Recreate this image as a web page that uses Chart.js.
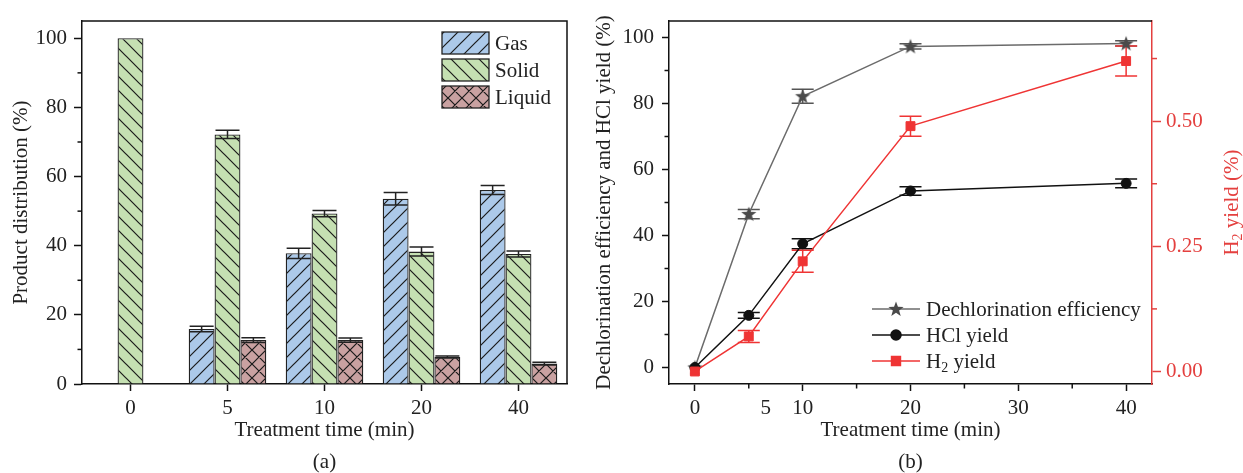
<!DOCTYPE html>
<html>
<head>
<meta charset="utf-8">
<script src="https://cdn.jsdelivr.net/npm/chart.js@4.4.1/dist/chart.umd.min.js"></script>
<style>
  html, body { margin: 0; padding: 0; background: #fff; overflow: hidden; }
  #wrap { position: relative; width: 1243px; height: 473px; overflow: hidden; }
  #chartA { position: absolute; left: 0; top: 0; }
  #chartB { position: absolute; left: 590px; top: 0; }
</style>
</head>
<body>
<div id="wrap">
  <canvas id="chartA" width="590" height="478"></canvas>
  <canvas id="chartB" width="653" height="478"></canvas>
</div>
<script>
// (a) product distribution
const timeLabels = ['0', '5', '10', '20', '40'];
const gasValues = [null, 15.9, 37.8, 53.6, 56.1];
const gasErrors = [0, 0.8, 1.5, 1.8, 1.3];
const solidValues = [100, 72.2, 49.3, 38.3, 37.6];
const solidErrors = [0, 1.2, 0.9, 1.3, 0.9];
const liquidValues = [null, 12.7, 12.7, 7.8, 5.9];
const liquidErrors = [0, 0.7, 0.6, 0.3, 0.4];
const distTicks = [0, 20, 40, 60, 80, 100];
const distMinor = [10, 30, 50, 70, 90];

// (b) dechlorination efficiency, HCl and H2 yield
const timeValues = [0, 5, 10, 20, 40];
const dechlValues = [0, 46.5, 82.2, 97.3, 98.2];
const dechlErrors = [0, 1.4, 2.1, 0.8, 0.8];
const hclValues = [0, 15.8, 37.5, 53.5, 55.8];
const hclErrors = [0, 0.9, 1.5, 1.3, 1.3];
const h2Values = [0, 0.07, 0.22, 0.49, 0.62];
const h2Errors = [0, 0.012, 0.022, 0.02, 0.03];
const timeTicks = [0, 10, 20, 30, 40];
const timeMinor = [5, 15, 25, 35];
const effTicks = [0, 20, 40, 60, 80, 100];
const effMinor = [10, 30, 50, 70, 90];
const h2Ticks = [0, 0.25, 0.5];
const h2Minor = [0.125, 0.375, 0.625];

const FONT = '"Liberation Serif", "Times New Roman", serif';
const TXT = '#222';
const RED_AXIS = '#e4403f';
const RED = '#ef3434';

// hatch patterns for the bars
function hatch(bg, kind) {
  const s = 14;
  const c = document.createElement('canvas');
  c.width = s; c.height = s;
  const g = c.getContext('2d');
  g.fillStyle = bg;
  g.fillRect(0, 0, s, s);
  g.strokeStyle = '#1a1a1a';
  g.lineWidth = 1.2;
  g.beginPath();
  if (kind === '/' || kind === 'x') {
    g.moveTo(0, s); g.lineTo(s, 0);
    g.moveTo(-1, 1); g.lineTo(1, -1);
    g.moveTo(s - 1, s + 1); g.lineTo(s + 1, s - 1);
  }
  if (kind === '\\' || kind === 'x') {
    g.moveTo(0, 0); g.lineTo(s, s);
    g.moveTo(s - 1, -1); g.lineTo(s + 1, 1);
    g.moveTo(-1, s - 1); g.lineTo(1, s + 1);
  }
  g.stroke();
  return c.getContext('2d').createPattern(c, 'repeat');
}

// filled five point star used as marker
function starImage(color) {
  const c = document.createElement('canvas');
  c.width = 18; c.height = 18;
  const g = c.getContext('2d');
  g.fillStyle = color;
  g.beginPath();
  for (let i = 0; i < 10; i++) {
    const r = i % 2 ? 3.3 : 8;
    const a = -Math.PI / 2 + i * Math.PI / 5;
    g.lineTo(9 + r * Math.cos(a), 9.5 + r * Math.sin(a));
  }
  g.closePath();
  g.fill();
  return c;
}

// text with subscript parts: [[text, isSub], ...]
function richText(ctx, parts, x, y, size) {
  const widths = parts.map(([t, sub]) => {
    ctx.font = (sub ? Math.round(size * 0.65) : size) + 'px ' + FONT;
    return ctx.measureText(t).width;
  });
  let cx = x;
  parts.forEach(([t, sub], i) => {
    ctx.font = (sub ? Math.round(size * 0.65) : size) + 'px ' + FONT;
    ctx.fillText(t, cx, sub ? y + size * 0.28 : y);
    cx += widths[i];
  });
  return widths.reduce((s, w) => s + w, 0);
}

const errorBars = {
  id: 'errorBars',
  draw(chart) {
    const ctx = chart.ctx;
    chart.data.datasets.forEach((ds, i) => {
      if (!ds.errors) return;
      const meta = chart.getDatasetMeta(i);
      const ys = chart.scales[meta.yAxisID];
      ctx.save();
      ctx.strokeStyle = ds.errorColor;
      ctx.lineWidth = 1.5;
      meta.data.forEach((el, j) => {
        const v = ds.data[j];
        const val = v !== null && typeof v === 'object' ? v.y : v;
        const e = ds.errors[j];
        if (val == null || !e) return;
        const x = el.x;
        const y1 = ys.getPixelForValue(val + e);
        const y2 = ys.getPixelForValue(val - e);
        const w = ds.capHalf;
        ctx.beginPath();
        ctx.moveTo(x, y1); ctx.lineTo(x, y2);
        ctx.moveTo(x - w, y1); ctx.lineTo(x + w, y1);
        ctx.moveTo(x - w, y2); ctx.lineTo(x + w, y2);
        ctx.stroke();
      });
      ctx.restore();
    });
  },
  afterDatasetsDraw(chart, args, opts) { if (!opts.below) this.draw(chart); },
  beforeDatasetsDraw(chart, args, opts) { if (opts.below) this.draw(chart); }
};

const axisExtras = {
  id: 'axisExtras',
  afterDraw(chart, args, opts) {
    const ctx = chart.ctx;
    const a = chart.chartArea;
    ctx.save();
    ctx.lineWidth = 1.5;
    (opts.minor || []).forEach(m => {
      const sc = chart.scales[m.axis];
      ctx.strokeStyle = m.color || '#111';
      m.values.forEach(v => {
        const p = sc.getPixelForValue(v);
        ctx.beginPath();
        if (sc.isHorizontal()) { ctx.moveTo(p, a.bottom); ctx.lineTo(p, a.bottom + 4.5); }
        else if (sc.position === 'left') { ctx.moveTo(a.left, p); ctx.lineTo(a.left - 4.5, p); }
        else { ctx.moveTo(a.right, p); ctx.lineTo(a.right + 5, p); }
        ctx.stroke();
      });
    });
    ctx.strokeStyle = '#111';
    ctx.beginPath();
    ctx.moveTo(a.left, a.top);
    ctx.lineTo(a.right, a.top);
    if (opts.frameRight) ctx.lineTo(a.right, a.bottom);
    ctx.stroke();
    ctx.restore();
  }
};

const legendA = {
  id: 'legendA',
  afterDraw(chart) {
    const ctx = chart.ctx;
    const a = chart.chartArea;
    ctx.save();
    ctx.textBaseline = 'middle';
    ctx.font = '21px ' + FONT;
    chart.data.datasets.forEach((ds, i) => {
      const x = a.right - 125;
      const y = a.top + 11 + i * 27;
      ctx.fillStyle = ds.backgroundColor;
      ctx.fillRect(x, y, 47, 22);
      ctx.strokeStyle = '#222';
      ctx.lineWidth = 1.3;
      ctx.strokeRect(x, y, 47, 22);
      ctx.fillStyle = TXT;
      ctx.fillText(ds.label, x + 53, y + 12);
    });
    ctx.restore();
  }
};

const legendB = {
  id: 'legendB',
  afterDraw(chart) {
    const ctx = chart.ctx;
    const a = chart.chartArea;
    ctx.save();
    ctx.textBaseline = 'middle';
    const rows = [a.bottom - 75, a.bottom - 49, a.bottom - 23];
    chart.data.datasets.forEach((ds, i) => {
      const y = rows[i];
      const x0 = a.right - 280, x1 = a.right - 232;
      ctx.strokeStyle = ds.borderColor;
      ctx.lineWidth = 1.5;
      ctx.beginPath(); ctx.moveTo(x0, y); ctx.lineTo(x1, y); ctx.stroke();
      ctx.fillStyle = ds.pointBackgroundColor;
      ctx.strokeStyle = ds.pointBorderColor;
      Chart.helpers.drawPoint(ctx, { pointStyle: ds.pointStyle, radius: ds.pointRadius, rotation: 0, borderWidth: 1 }, (x0 + x1) / 2, y);
      ctx.fillStyle = TXT;
      richText(ctx, ds.legendParts, a.right - 226, y + 1, 21);
    });
    ctx.restore();
  }
};

// extra "5" label placed beside its tick, and the rotated H2 axis title
const labelsB = {
  id: 'labelsB',
  afterDraw(chart) {
    const ctx = chart.ctx;
    const a = chart.chartArea;
    const xs = chart.scales.x;
    ctx.save();
    ctx.fillStyle = TXT;
    ctx.font = '21px ' + FONT;
    ctx.textAlign = 'center';
    ctx.textBaseline = 'middle';
    ctx.fillText('5', xs.getPixelForValue(5) + 17, a.bottom + 7 + 5 + 12.6);
    ctx.translate(chart.width - 11, (a.top + a.bottom) / 2);
    ctx.rotate(-Math.PI / 2);
    ctx.textAlign = 'left';
    ctx.fillStyle = RED_AXIS;
    const parts = [['H', 0], ['2', 1], [' yield (%)', 0]];
    ctx.globalAlpha = 0;
    const w = richText(ctx, parts, 0, 0, 21);
    ctx.globalAlpha = 1;
    richText(ctx, parts, -w / 2, 0, 21);
    ctx.restore();
  }
};

const tickFont = { family: FONT, size: 21 };

new Chart(document.getElementById('chartA'), {
  type: 'bar',
  data: {
    labels: timeLabels,
    datasets: [
      { label: 'Gas', data: gasValues, errors: gasErrors, backgroundColor: hatch('#acc9e9', '/') },
      { label: 'Solid', data: solidValues, errors: solidErrors, backgroundColor: hatch('#c5e0b2', '\\') },
      { label: 'Liquid', data: liquidValues, errors: liquidErrors, backgroundColor: hatch('#c9a1a1', 'x') }
    ].map(ds => Object.assign(ds, {
      borderColor: '#222', borderWidth: 1.3, errorColor: '#222', capHalf: 12,
      categoryPercentage: 0.8, barPercentage: 1
    }))
  },
  options: {
    responsive: false,
    animation: false,
    layout: { padding: { top: 21, right: 23, left: 0, bottom: 0 } },
    plugins: {
      legend: { display: false },
      tooltip: { enabled: false },
      errorBars: { below: false },
      axisExtras: { frameRight: true, minor: [{ axis: 'y', values: distMinor }] }
    },
    scales: {
      x: {
        afterFit: s => { s.height = 94; },
        grid: { offset: false, drawOnChartArea: false, tickLength: 7, tickColor: '#111', tickWidth: 1.5 },
        border: { color: '#111', width: 1.5 },
        ticks: { font: tickFont, color: TXT, padding: 5, maxRotation: 0 },
        title: { display: true, text: ['Treatment time (min)', '(a)'], color: TXT, font: { family: FONT, size: 21, lineHeight: 32 / 21 }, padding: 0 }
      },
      y: {
        min: 0, max: 105,
        afterFit: s => { s.width = 82; },
        afterBuildTicks: s => { s.ticks = distTicks.map(v => ({ value: v })); },
        grid: { drawOnChartArea: false, tickLength: 8, tickColor: '#111', tickWidth: 1.5 },
        border: { color: '#111', width: 1.5 },
        ticks: { font: tickFont, color: TXT, padding: 7 },
        title: { display: true, text: 'Product distribution (%)', color: TXT, font: { family: FONT, size: 21 }, padding: { top: 9, bottom: 0 } }
      }
    }
  },
  plugins: [errorBars, axisExtras, legendA]
});

new Chart(document.getElementById('chartB'), {
  type: 'line',
  data: {
    datasets: [
      {
        label: 'Dechlorination efficiency', legendParts: [['Dechlorination efficiency', 0]],
        data: timeValues.map((t, i) => ({ x: t, y: dechlValues[i] })), errors: dechlErrors,
        borderColor: '#6b6b6b', errorColor: '#555', pointBackgroundColor: '#4a4a4a', pointBorderColor: '#4a4a4a',
        pointStyle: starImage('#4a4a4a'), pointRadius: 8, yAxisID: 'y', order: 3
      },
      {
        label: 'HCl yield', legendParts: [['HCl yield', 0]],
        data: timeValues.map((t, i) => ({ x: t, y: hclValues[i] })), errors: hclErrors,
        borderColor: '#111', errorColor: '#111', pointBackgroundColor: '#111', pointBorderColor: '#111',
        pointStyle: 'circle', pointRadius: 5, yAxisID: 'y', order: 2
      },
      {
        label: 'H2 yield', legendParts: [['H', 0], ['2', 1], [' yield', 0]],
        data: timeValues.map((t, i) => ({ x: t, y: h2Values[i] })), errors: h2Errors,
        borderColor: RED, errorColor: RED, pointBackgroundColor: RED, pointBorderColor: RED,
        pointStyle: 'rect', pointRadius: 6.3, yAxisID: 'y2', order: 1
      }
    ].map(ds => Object.assign(ds, { borderWidth: 1.5, tension: 0, fill: false, capHalf: 11, pointBorderWidth: 1 }))
  },
  options: {
    responsive: false,
    animation: false,
    layout: { padding: { top: 21, right: 0, left: 0, bottom: 0 } },
    plugins: {
      legend: { display: false },
      tooltip: { enabled: false },
      errorBars: { below: true },
      axisExtras: {
        frameRight: false,
        minor: [
          { axis: 'x', values: timeMinor },
          { axis: 'y', values: effMinor },
          { axis: 'y2', values: h2Minor, color: RED_AXIS }
        ]
      }
    },
    scales: {
      x: {
        type: 'linear', min: -2.4, max: 42.4,
        afterFit: s => { s.height = 94; },
        afterBuildTicks: s => { s.ticks = timeTicks.map(v => ({ value: v })); },
        grid: { drawOnChartArea: false, tickLength: 7, tickColor: '#111', tickWidth: 1.5 },
        border: { color: '#111', width: 1.5 },
        ticks: { font: tickFont, color: TXT, padding: 5, maxRotation: 0, autoSkip: false },
        title: { display: true, text: ['Treatment time (min)', '(b)'], color: TXT, font: { family: FONT, size: 21, lineHeight: 32 / 21 }, padding: 0 }
      },
      y: {
        position: 'left', min: -5, max: 105,
        afterFit: s => { s.width = 79; },
        afterBuildTicks: s => { s.ticks = effTicks.map(v => ({ value: v })); },
        grid: { drawOnChartArea: false, tickLength: 7, tickColor: '#111', tickWidth: 1.5 },
        border: { color: '#111', width: 1.5 },
        ticks: { font: tickFont, color: TXT, padding: 8 },
        title: { display: true, text: 'Dechlorination efficiency and HCl yield (%)', color: TXT, font: { family: FONT, size: 21 }, padding: { top: 2, bottom: 0 } }
      },
      y2: {
        position: 'right', min: -0.025, max: 0.70,
        afterFit: s => { s.width = 91; },
        afterBuildTicks: s => { s.ticks = h2Ticks.map(v => ({ value: v })); },
        grid: { drawOnChartArea: false, tickLength: 9, tickColor: RED_AXIS, tickWidth: 1.5 },
        border: { color: RED_AXIS, width: 1.5 },
        ticks: { font: tickFont, color: RED_AXIS, padding: 5, callback: v => v.toFixed(2) },
        title: { display: false }
      }
    }
  },
  plugins: [errorBars, axisExtras, legendB, labelsB]
});
</script>
</body>
</html>
